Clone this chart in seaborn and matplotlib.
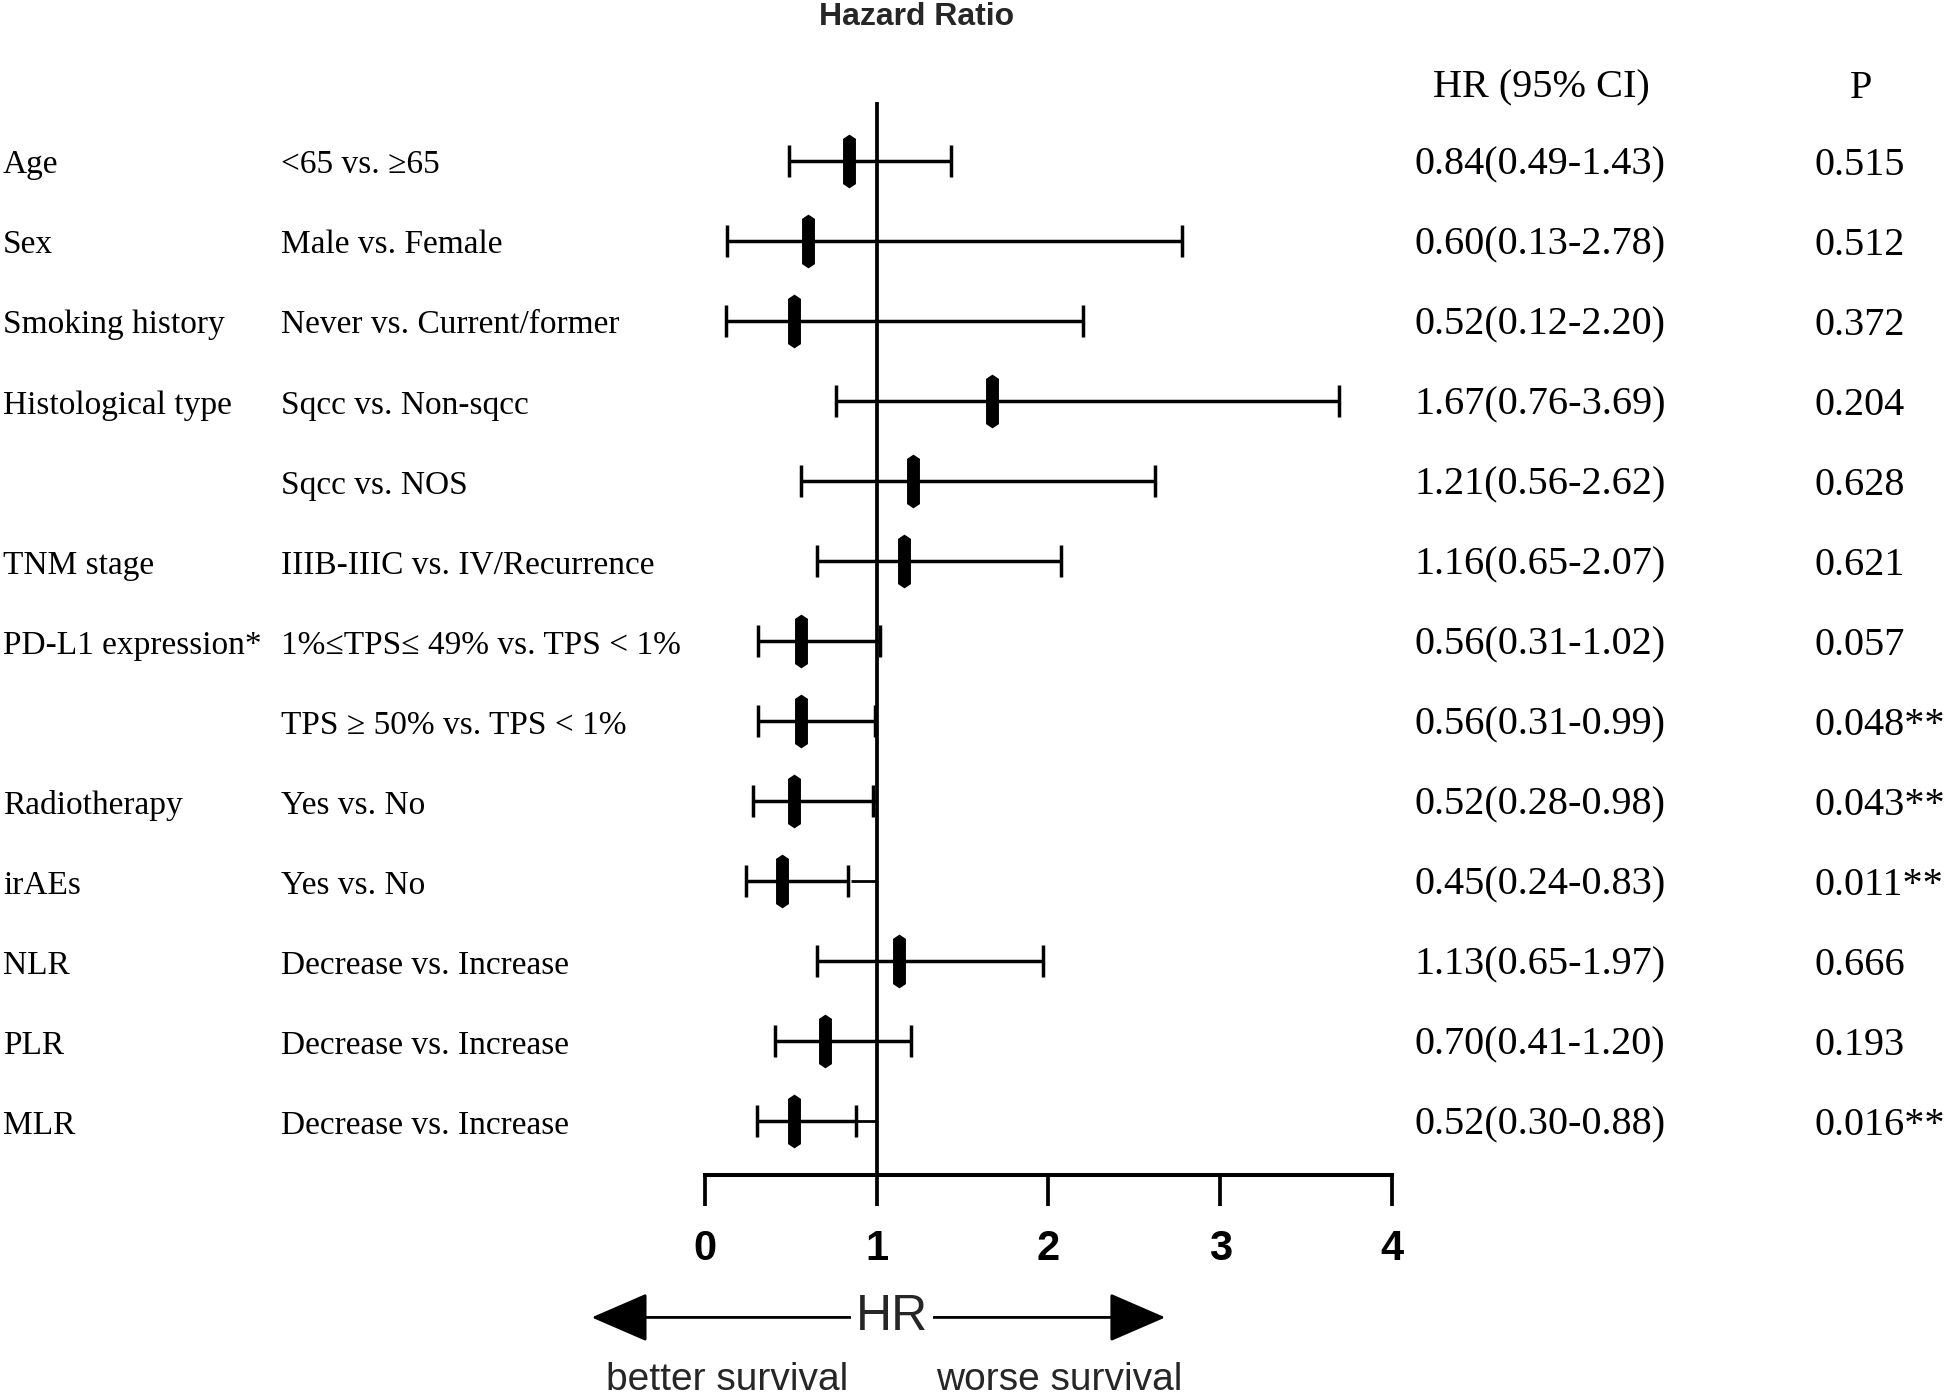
import numpy as np
import pandas as pd
import matplotlib
matplotlib.use("Agg")
import matplotlib.pyplot as plt
import matplotlib.transforms as mtransforms
from matplotlib.path import Path
import seaborn as sns

# ---------------- data ----------------
groups = ["Age", "Sex", "Smoking history", "Histological type", "", "TNM stage",
          "PD-L1 expression*", "", "Radiotherapy", "irAEs", "NLR", "PLR", "MLR"]
comparisons = ["<65 vs. \u226565", "Male vs. Female", "Never vs. Current/former",
               "Sqcc vs. Non-sqcc", "Sqcc vs. NOS", "IIIB-IIIC vs. IV/Recurrence",
               "1%\u2264TPS\u2264 49% vs. TPS < 1%", "TPS \u2265 50% vs. TPS < 1%",
               "Yes vs. No", "Yes vs. No", "Decrease vs. Increase",
               "Decrease vs. Increase", "Decrease vs. Increase"]
hr = [0.84, 0.60, 0.52, 1.67, 1.21, 1.16, 0.56, 0.56, 0.52, 0.45, 1.13, 0.70, 0.52]
ci_low = [0.49, 0.13, 0.12, 0.76, 0.56, 0.65, 0.31, 0.31, 0.28, 0.24, 0.65, 0.41, 0.30]
ci_high = [1.43, 2.78, 2.20, 3.69, 2.62, 2.07, 1.02, 0.99, 0.98, 0.83, 1.97, 1.20, 0.88]
p_values = ["0.515", "0.512", "0.372", "0.204", "0.628", "0.621", "0.057",
            "0.048**", "0.043**", "0.011**", "0.666", "0.193", "0.016**"]
x_ticks = [0, 1, 2, 3, 4]
ref_segment = (0.85, 1.0)   # faint stub drawn next to the reference line on each row

df = pd.DataFrame({"group": groups, "comparison": comparisons, "hr": hr,
                   "lo": ci_low, "hi": ci_high, "p": p_values})
df["row"] = np.arange(len(df))
df["ci_text"] = [f"{h:.2f}({l:.2f}-{u:.2f})" for h, l, u in zip(df.hr, df.lo, df.hi)]

# ---------------- style ----------------
sns.set_theme(style="white")
plt.rcParams["font.family"] = ["Liberation Serif", "DejaVu Serif"]

W, H = 1949, 1399
fig = plt.figure(figsize=(W / 100, H / 100), dpi=100)
fig.patch.set_facecolor("white")

# axes: x=0 at px 705, x=4 at px 1392; top at px 102, bottom spine at px 1175
ax = fig.add_axes([705 / W, 1 - 1175 / H, (1392 - 705) / W, (1175 - 102) / H])
ax.set_facecolor("none")

# confidence intervals
ax.errorbar(df.hr, df.row, xerr=[df.hr - df.lo, df.hi - df.hr], fmt="none",
            ecolor="black", elinewidth=2.5, capsize=11.2, capthick=2.5, zorder=2)
# faint stub near reference line
ax.hlines(df.row, ref_segment[0], ref_segment[1], color="black", lw=2.0, zorder=1)

# point estimate markers (elongated hexagon)
verts = [(0, 1), (0.24, 0.84), (0.24, -0.84), (0, -1), (-0.24, -0.84), (-0.24, 0.84), (0, 1)]
marker = Path(verts)
sns.scatterplot(data=df, x="hr", y="row", marker=marker, s=1500, color="black",
                edgecolor="black", linewidth=0, ax=ax, zorder=3, legend=False)

# reference line
ax.axvline(1, color="black", lw=2.7, zorder=2)

ax.set_xlim(0, 4)
ax.set_ylim(12.67, -0.74)
ax.set_xticks(x_ticks)
ax.set_xticklabels([str(t) for t in x_ticks], fontsize=30, fontweight="bold",
                   family=["Liberation Sans", "DejaVu Sans"])
ax.set_yticks([])
ax.set_xlabel("")
ax.set_ylabel("")
ax.tick_params(axis="x", bottom=True, length=22, width=2.7, pad=17, color="black",
               labelcolor="black")
sns.despine(ax=ax, left=True, top=True, right=True)
ax.spines["bottom"].set_linewidth(2.9)
ax.spines["bottom"].set_color("black")

# ---------------- text columns ----------------
trans = mtransforms.blended_transform_factory(fig.transFigure, ax.transData)
label_fs = 24
num_fs = 29
dy = 0.05
for _, r in df.iterrows():
    ax.text(3 / W, r.row + dy, r.group, transform=trans, ha="left", va="center",
            fontsize=label_fs, color="black")
    ax.text(281 / W, r.row + dy, r.comparison, transform=trans, ha="left", va="center",
            fontsize=label_fs, color="black")
    ax.text(1415 / W, r.row + dy, r.ci_text, transform=trans, ha="left", va="center",
            fontsize=num_fs, color="black")
    ax.text(1815 / W, r.row + dy, r.p, transform=trans, ha="left", va="center",
            fontsize=num_fs, color="black")

ax.text(1541 / W, -0.96 + dy, "HR (95% CI)", transform=trans, ha="center", va="center",
        fontsize=num_fs, color="black")
ax.text(1861 / W, -0.96 + dy, "P", transform=trans, ha="center", va="center",
        fontsize=num_fs, color="black")

fig.text(917 / W, 1 - 17 / H, "Hazard Ratio", ha="center", va="center",
         fontsize=23, fontweight="bold", family=["Liberation Sans", "DejaVu Sans"])

# ---------------- HR direction arrow ----------------
arrow_y = 14.45
ax.annotate("", xy=(-0.66, arrow_y), xytext=(2.68, arrow_y), xycoords="data",
            annotation_clip=False,
            arrowprops=dict(arrowstyle="<|-|>,head_length=1.8,head_width=0.78",
                            mutation_scale=20, lw=2.0, color="black",
                            shrinkA=0, shrinkB=0))
ax.text(1.09, arrow_y, "HR", ha="center", va="center", fontsize=36,
        family=["Liberation Sans", "DejaVu Sans"], clip_on=False,
        bbox=dict(boxstyle="square,pad=0.1", fc="white", ec="none"))
ax.text(0.128, 15.23, "better survival", ha="center", va="center", fontsize=28,
        family=["Liberation Sans", "DejaVu Sans"], clip_on=False)
ax.text(2.06, 15.23, "worse survival", ha="center", va="center", fontsize=28,
        family=["Liberation Sans", "DejaVu Sans"], clip_on=False)

fig.savefig("out.png", dpi=100, facecolor="white")
